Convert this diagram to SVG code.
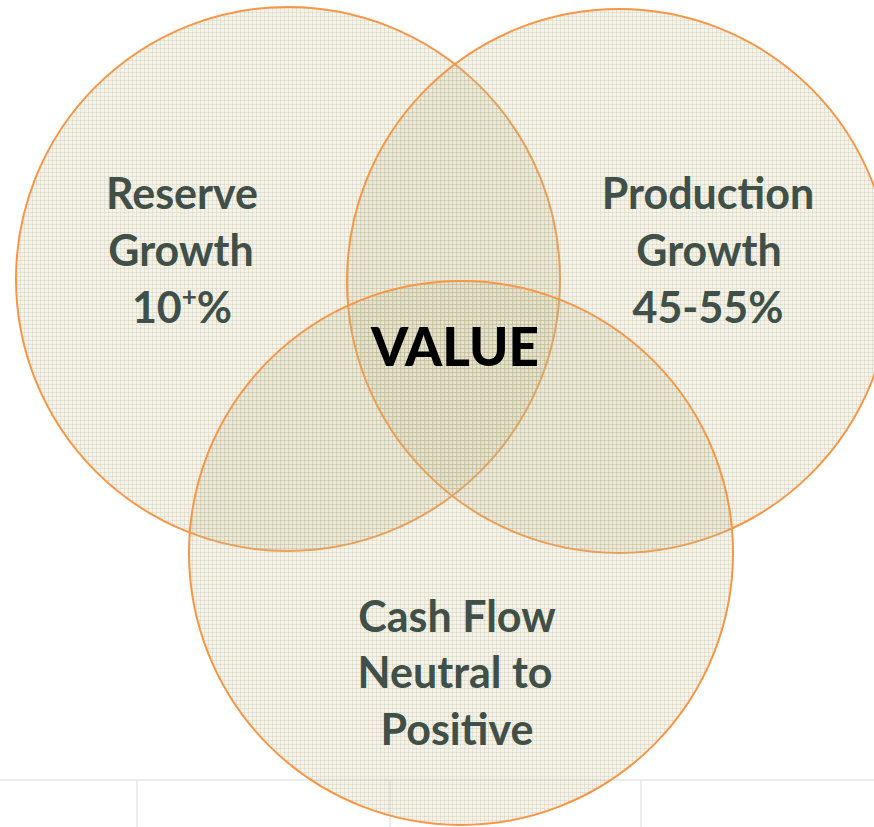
<svg xmlns="http://www.w3.org/2000/svg" width="874" height="827" viewBox="0 0 874 827">
<style>
.ring{fill:url(#weave);stroke:#f79646;stroke-width:2}
.lbl{font-family:Lato,"Open Sans","Liberation Sans",sans-serif;font-weight:bold;font-size:43px;fill:#404f47;text-anchor:middle}
.core{font-family:Lato,"Open Sans","Liberation Sans",sans-serif;font-weight:900;font-size:53px;fill:#000;text-anchor:middle}
.grid{stroke:#e3e6eb;stroke-width:1.5}
</style>
<defs>
<pattern id="weave" width="4" height="4" patternUnits="userSpaceOnUse">
<rect width="4" height="4" fill="#c4bb93" fill-opacity="0.19"/>
<rect width="4" height="1" fill="#b0a679" fill-opacity="0.2"/>
<rect width="1" height="4" fill="#b0a679" fill-opacity="0.2"/>
</pattern>
</defs>
<rect width="874" height="827" fill="#fff"/>
<g id="table-lines">
<line class="grid" x1="0" y1="780" x2="874" y2="780"/>
<line class="grid" x1="137" y1="780" x2="137" y2="827"/>
<line class="grid" x1="390" y1="780" x2="390" y2="827"/>
<line class="grid" x1="641" y1="780" x2="641" y2="827"/>
</g>
<g id="reserve-growth">
<circle class="ring" cx="288" cy="279" r="272"/>
</g>
<g id="production-growth">
<circle class="ring" cx="619" cy="281" r="272"/>
</g>
<g id="cash-flow">
<circle class="ring" cx="461" cy="553" r="272"/>
</g>
<g id="reserve-growth-label">
<text class="lbl" x="182" y="209">Reserve</text>
<text class="lbl" x="181" y="266">Growth</text>
<text class="lbl" x="182" y="323">10<tspan font-size="26" dy="-17">+</tspan><tspan dy="17">%</tspan></text>
</g>
<g id="production-growth-label">
<text class="lbl" x="708" y="209">Production</text>
<text class="lbl" x="709" y="266">Growth</text>
<text class="lbl" x="708" y="323">45-55%</text>
</g>
<g id="cash-flow-label">
<text class="lbl" x="457" y="632">Cash Flow</text>
<text class="lbl" x="455" y="688">Neutral to</text>
<text class="lbl" x="457" y="745">Positive</text>
</g>
<g id="value">
<text class="core" x="455" y="366">VALUE</text>
</g>
</svg>
